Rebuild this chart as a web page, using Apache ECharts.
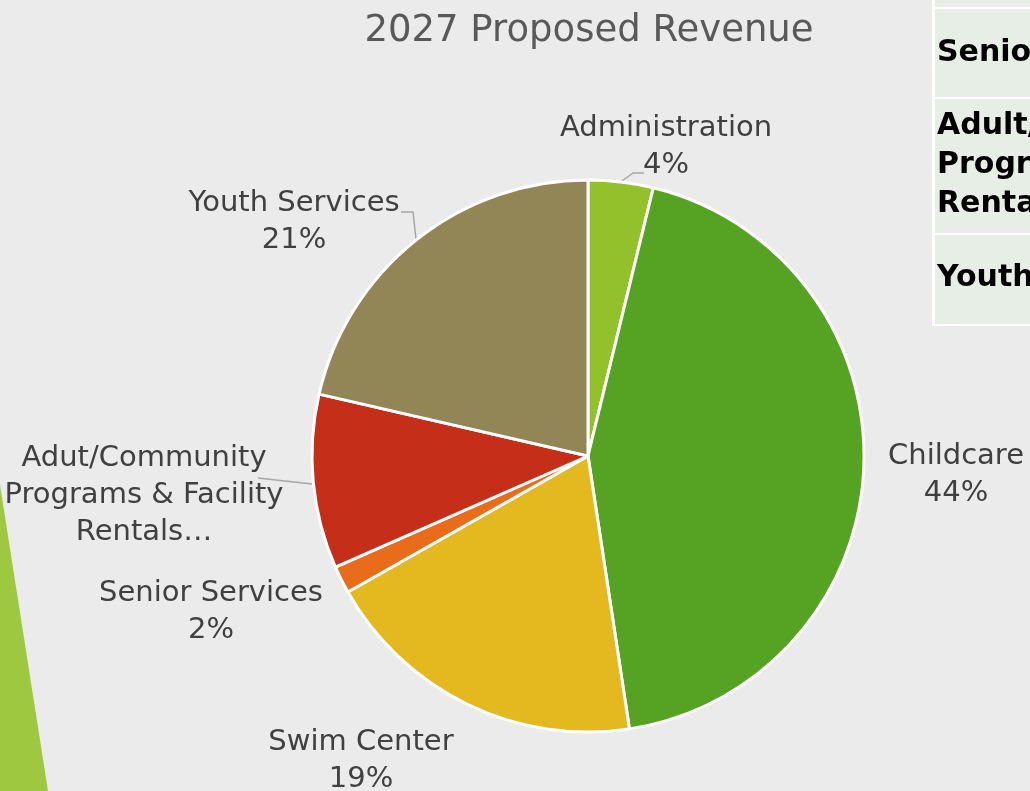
<!DOCTYPE html>
<html>
<head>
<meta charset="utf-8">
<title>2027 Proposed Revenue</title>
<script src="https://cdn.jsdelivr.net/npm/echarts@6/dist/echarts.min.js"></script>
<style>
  html, body { margin: 0; padding: 0; background: #ebebeb; }
  #chart { width: 1030px; height: 791px; }
</style>
</head>
<body>
<div id="chart"></div>
<script>
// Revenue share by program area (percent of total)
const categories = ['Administration', 'Childcare', 'Swim Center', 'Senior Services',
  'Adut/Community Programs & Facility Rentals', 'Youth Services'];
const shares = [3.8, 43.8, 19.2, 1.6, 10.2, 21.4];
const sliceColors = ['#92c12b', '#56a323', '#e4b920', '#e96c1a', '#c52f19', '#928656'];

// Label text shown beside each slice
const labelTexts = [
  'Administration\n4%',
  'Childcare\n44%',
  'Swim Center\n19%',
  'Senior Services\n2%',
  'Adut/Community\nPrograms & Facility\nRentals…',
  'Youth Services\n21%'
];

// Label anchor points (centre of each text block) and leader-line paths
const labelSpots = [
  { x: 666, y: 147, line: [[622, 181], [633, 173], [644, 173]] },
  { x: 956, y: 475, line: null },
  { x: 361, y: 761, line: null },
  { x: 211, y: 612, line: null },
  { x: 144, y: 495, line: [[312, 484], [285, 481], [258, 478]] },
  { x: 294, y: 222, line: [[416, 239], [413, 212], [401, 212]] }
];

// Side table rows (partially visible at the right edge)
const tableRows = ['Senior Services', 'Adult/Community\nPrograms & Facility\nRentals', 'Youth Services'];

const chart = echarts.init(document.getElementById('chart'), null, { renderer: 'canvas' });

const labelFont = 'DejaVu Sans';

const option = {
  backgroundColor: '#ebebeb',
  animation: false,
  title: {
    text: '2027 Proposed Revenue',
    left: 584,
    top: 8,
    textAlign: 'center',
    textStyle: { fontFamily: labelFont, fontSize: 37, fontWeight: 'normal', color: '#595959' }
  },
  graphic: [
    // green accent stripe at the lower left
    {
      type: 'polygon',
      shape: { points: [[-60, 485], [0, 485], [48, 791], [-60, 791]] },
      style: { fill: '#9dc83f' },
      silent: true
    },
    // table frame and cells
    { type: 'rect', shape: { x: 932, y: -10, width: 120, height: 336 }, style: { fill: '#ffffff' }, silent: true },
    { type: 'rect', shape: { x: 935, y: -10, width: 120, height: 17 }, style: { fill: '#e7eee6' }, silent: true },
    { type: 'rect', shape: { x: 935, y: 9, width: 120, height: 88 }, style: { fill: '#e7eee6' }, silent: true },
    { type: 'rect', shape: { x: 935, y: 99, width: 120, height: 134 }, style: { fill: '#e7eee6' }, silent: true },
    { type: 'rect', shape: { x: 935, y: 235, width: 120, height: 89 }, style: { fill: '#e7eee6' }, silent: true },
    {
      type: 'text', left: 937, top: 38, silent: true,
      style: { text: tableRows[0], fontFamily: labelFont, fontSize: 30, fontWeight: 'bold', fill: '#000000' }
    },
    {
      type: 'text', left: 937, top: 107, silent: true,
      style: { text: tableRows[1], fontFamily: labelFont, fontSize: 30, fontWeight: 'bold', fill: '#000000', lineHeight: 39 }
    },
    {
      type: 'text', left: 937, top: 263, silent: true,
      style: { text: tableRows[2], fontFamily: labelFont, fontSize: 30, fontWeight: 'bold', fill: '#000000' }
    }
  ],
  series: [{
    type: 'pie',
    center: [588, 456],
    radius: 276,
    startAngle: 90,
    clockwise: true,
    avoidLabelOverlap: false,
    itemStyle: { borderColor: '#ffffff', borderWidth: 3 },
    label: {
      show: true,
      position: 'outside',
      fontFamily: labelFont,
      fontSize: 29,
      lineHeight: 37,
      color: '#404040',
      align: 'center',
      formatter: (p) => labelTexts[p.dataIndex]
    },
    labelLine: {
      show: true,
      length: 10,
      length2: 10,
      lineStyle: { color: '#a6a6a6', width: 1.5 }
    },
    labelLayout: (params) => {
      const spot = labelSpots[params.dataIndex];
      const out = { x: spot.x, y: spot.y, align: 'center', verticalAlign: 'middle' };
      if (spot.line) out.labelLinePoints = spot.line;
      return out;
    },
    data: categories.map((name, i) => ({
      name,
      value: shares[i],
      itemStyle: { color: sliceColors[i] },
      labelLine: { show: !!labelSpots[i].line }
    }))
  }]
};

chart.setOption(option);
</script>
</body>
</html>
